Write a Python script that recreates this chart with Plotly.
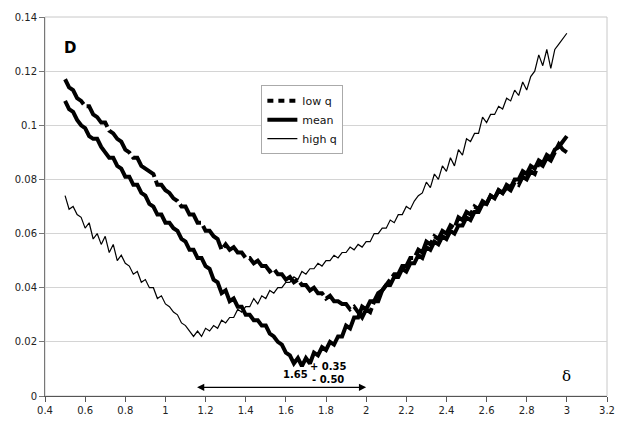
import plotly.graph_objects as go

# x grid (delta) shared by all series
delta = [round(0.5 + 0.02 * i, 2) for i in range(126)]

mean_D = [
    0.109, 0.106, 0.105, 0.102, 0.100, 0.099, 0.096, 0.095, 0.095, 0.092,
    0.090, 0.088, 0.088, 0.085, 0.084, 0.081, 0.081, 0.078, 0.078, 0.075,
    0.074, 0.071, 0.070, 0.067, 0.067, 0.064, 0.064, 0.062, 0.061, 0.058,
    0.057, 0.054, 0.054, 0.051, 0.051, 0.048, 0.047, 0.043, 0.042, 0.038,
    0.039, 0.035, 0.036, 0.033, 0.033, 0.030, 0.030, 0.028, 0.028, 0.026,
    0.026, 0.023, 0.022, 0.020, 0.019, 0.016, 0.015, 0.012, 0.014, 0.011,
    0.014, 0.012, 0.016, 0.015, 0.018, 0.017, 0.020, 0.019, 0.022, 0.022,
    0.026, 0.025, 0.029, 0.029, 0.033, 0.032, 0.035, 0.035, 0.038, 0.039,
    0.041, 0.041, 0.044, 0.044, 0.047, 0.046, 0.049, 0.049, 0.052, 0.051,
    0.055, 0.054, 0.057, 0.056, 0.059, 0.058, 0.061, 0.060, 0.063, 0.063,
    0.066, 0.065, 0.068, 0.068, 0.071, 0.071, 0.074, 0.073, 0.076, 0.075,
    0.078, 0.077, 0.080, 0.080, 0.083, 0.082, 0.085, 0.084, 0.087, 0.086,
    0.089, 0.088, 0.091, 0.092, 0.094, 0.096,
]

low_q = [
    0.117, 0.114, 0.113, 0.110, 0.109, 0.107, 0.107, 0.104, 0.103, 0.101,
    0.101, 0.098, 0.097, 0.095, 0.094, 0.091, 0.090, 0.088, 0.088, 0.085,
    0.084, 0.083, 0.082, 0.078, 0.078, 0.076, 0.075, 0.073, 0.072, 0.070,
    0.070, 0.067, 0.067, 0.064, 0.064, 0.061, 0.061, 0.059, 0.058, 0.054,
    0.056, 0.054, 0.055, 0.053, 0.053, 0.051, 0.051, 0.049, 0.050, 0.048,
    0.048, 0.046, 0.047, 0.045, 0.045, 0.043, 0.044, 0.042, 0.043, 0.041,
    0.041, 0.039, 0.040, 0.038, 0.038, 0.036, 0.037, 0.035, 0.035, 0.034,
    0.034, 0.032, 0.033, 0.031, 0.029, 0.032, 0.031, 0.035, 0.035, 0.039,
    0.041, 0.043, 0.045, 0.045, 0.048, 0.048, 0.051, 0.051, 0.054, 0.053,
    0.057, 0.056, 0.059, 0.058, 0.061, 0.060, 0.063, 0.062, 0.066, 0.065,
    0.068, 0.067, 0.070, 0.069, 0.072, 0.071, 0.074, 0.073, 0.076, 0.075,
    0.077, 0.076, 0.079, 0.078, 0.081, 0.080, 0.083, 0.082, 0.086, 0.085,
    0.088, 0.087, 0.090, 0.093, 0.091, 0.090,
]

high_q = [
    0.074, 0.069, 0.070, 0.067, 0.066, 0.062, 0.064, 0.058, 0.060, 0.056,
    0.059, 0.053, 0.056, 0.050, 0.052, 0.049, 0.048, 0.045, 0.046, 0.042,
    0.043, 0.040, 0.040, 0.036, 0.037, 0.034, 0.033, 0.031, 0.030, 0.027,
    0.026, 0.024, 0.022, 0.024, 0.022, 0.025, 0.024, 0.026, 0.025, 0.028,
    0.027, 0.029, 0.029, 0.032, 0.031, 0.033, 0.033, 0.036, 0.034, 0.037,
    0.036, 0.039, 0.038, 0.040, 0.040, 0.042, 0.042, 0.044, 0.043, 0.046,
    0.045, 0.047, 0.047, 0.049, 0.048, 0.050, 0.050, 0.052, 0.051, 0.053,
    0.053, 0.055, 0.054, 0.056, 0.055, 0.057, 0.057, 0.060, 0.060, 0.062,
    0.062, 0.065, 0.064, 0.067, 0.067, 0.070, 0.069, 0.072, 0.074, 0.075,
    0.079, 0.077, 0.082, 0.080, 0.085, 0.083, 0.088, 0.085, 0.091, 0.089,
    0.095, 0.094, 0.097, 0.097, 0.103, 0.101, 0.104, 0.104, 0.107, 0.106,
    0.110, 0.109, 0.113, 0.111, 0.116, 0.113, 0.118, 0.120, 0.126, 0.122,
    0.128, 0.121, 0.128, 0.130, 0.132, 0.134,
]

x_ticks = [0.4, 0.6, 0.8, 1.0, 1.2, 1.4, 1.6, 1.8, 2.0, 2.2, 2.4, 2.6, 2.8, 3.0, 3.2]
y_ticks = [0, 0.02, 0.04, 0.06, 0.08, 0.1, 0.12, 0.14]

best_delta = 1.65
err_plus = 0.35
err_minus = 0.50

FONT = "DejaVu Sans"

fig = go.Figure()
# legend entry for low q with short dashes (as in the original key)
fig.add_trace(go.Scatter(x=[None], y=[None], mode="lines", name="low q",
                         legendgroup="low", line=dict(color="black", width=4, dash="6px,5px")))
fig.add_trace(go.Scatter(x=delta, y=low_q, mode="lines", name="low q", showlegend=False,
                         legendgroup="low", line=dict(color="black", width=4, dash="32px,4px")))
fig.add_trace(go.Scatter(x=delta, y=mean_D, mode="lines", name="mean",
                         line=dict(color="black", width=4)))
fig.add_trace(go.Scatter(x=delta, y=high_q, mode="lines", name="high q",
                         line=dict(color="black", width=1.2)))

fig.update_layout(
    width=626, height=427,
    margin=dict(l=45, r=18, t=11, b=24),
    paper_bgcolor="white", plot_bgcolor="white",
    font=dict(family=FONT, size=10, color="#222"),
    showlegend=True,
    legend=dict(x=0.385, y=0.82, xanchor="left", yanchor="top",
                bgcolor="white", bordercolor="#aaaaaa", borderwidth=1,
                font=dict(family=FONT, size=11, color="#111"),
                tracegroupgap=0, itemwidth=30),
    xaxis=dict(range=[0.4, 3.2], tickvals=x_ticks, showgrid=False, zeroline=False,
               showline=True, linecolor="#555", linewidth=1,
               ticks="outside", ticklen=5, tickcolor="#555",
               tickfont=dict(family=FONT, size=10, color="#222")),
    yaxis=dict(range=[0, 0.14], tickvals=y_ticks, showgrid=True, gridcolor="#d4d4d4",
               zeroline=False, showline=True, linecolor="#777", linewidth=1,
               ticks="outside", ticklen=5, tickcolor="#777",
               tickfont=dict(family=FONT, size=10, color="#222")),
    shapes=[dict(type="rect", xref="paper", yref="paper", x0=0, x1=1, y0=0, y1=1,
                 line=dict(color="#c8c8c8", width=1), layer="below")],
)

fig.add_annotation(x=0.525, y=0.1285, text="<b>D</b>", showarrow=False,
                   font=dict(family=FONT, size=15, color="black"))
fig.add_annotation(x=3.0, y=0.0075, text="δ", showarrow=False,
                   font=dict(family="DejaVu Serif", size=15, color="black"))
fig.add_annotation(x=best_delta, y=0.0078, text="<b>%.2f</b>" % best_delta, showarrow=False,
                   font=dict(family=FONT, size=10, color="black"))
fig.add_annotation(x=1.81, y=0.0108, text="<b>+ %.2f</b>" % err_plus, showarrow=False,
                   font=dict(family=FONT, size=10, color="black"))
fig.add_annotation(x=1.81, y=0.0060, text="<b>- %.2f</b>" % err_minus, showarrow=False,
                   font=dict(family=FONT, size=10, color="black"))
# double arrow for the uncertainty interval
fig.add_annotation(x=best_delta + err_plus, y=0.0032, ax=best_delta - err_minus, ay=0.0032,
                   xref="x", yref="y", axref="x", ayref="y", text="",
                   showarrow=True, arrowhead=2, startarrowhead=2, arrowside="end+start",
                   arrowsize=1.2, arrowwidth=1.2, arrowcolor="black")

fig.write_html("out.html")
